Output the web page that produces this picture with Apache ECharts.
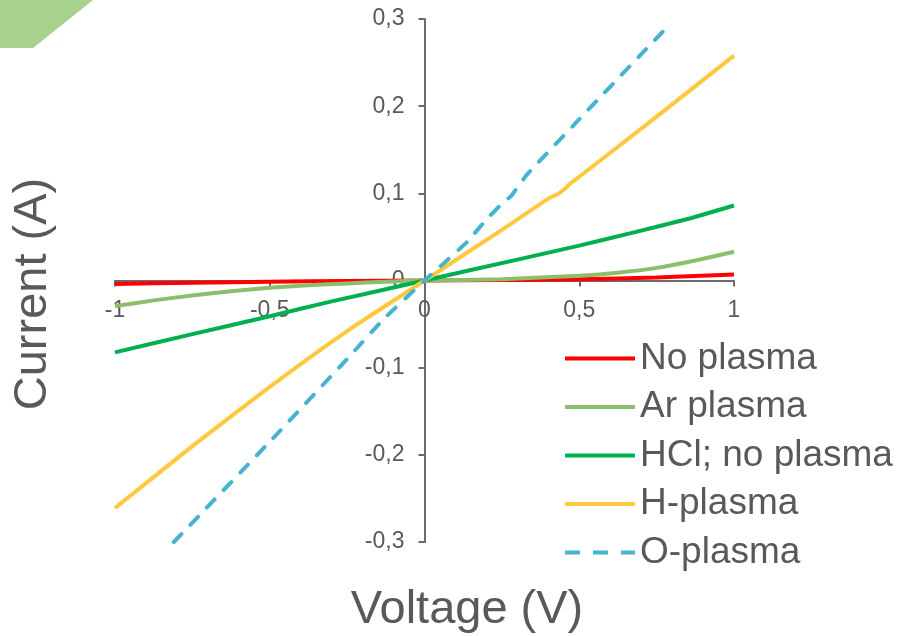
<!DOCTYPE html>
<html>
<head>
<meta charset="utf-8">
<script src="https://cdn.jsdelivr.net/npm/echarts@6/dist/echarts.min.js"></script>
<style>
html,body{margin:0;padding:0;background:#fff;}
#chart{width:899px;height:636px;}
</style>
</head>
<body>
<div id="chart"></div>
<script>
// ---- data ----
var seriesNames = ['No plasma', 'Ar plasma', 'HCl; no plasma', 'H-plasma', 'O-plasma'];

var noPlasmaV = [-1, -0.75, -0.5, -0.25, 0, 0.25, 0.5, 0.75, 1];
var noPlasmaI = [-0.004, -0.0025, -0.0015, -0.0005, 0, 0.0005, 0.0015, 0.0035, 0.007];

var arPlasmaV = [-1, -0.875, -0.75, -0.625, -0.5, -0.375, -0.25, -0.125, 0, 0.25, 0.5, 0.625, 0.75, 0.875, 1];
var arPlasmaI = [-0.0294, -0.0228, -0.0172, -0.0124, -0.0084, -0.0055, -0.0034, -0.0015, 0, 0.0015, 0.0055, 0.009, 0.0145, 0.023, 0.033];

var hclV = [-1, -0.75, -0.5, -0.3, 0, 0.3, 0.5, 0.664, 0.85, 1];
var hclI = [-0.0825, -0.0615, -0.041, -0.024, 0, 0.024, 0.040, 0.054, 0.0705, 0.086];

var hPlasmaV = [-1, -0.75, -0.5, -0.25, 0, 0.25, 0.4, 0.43, 0.45, 0.47, 0.5, 0.75, 1];
var hPlasmaI = [-0.261, -0.190, -0.122, -0.058, 0, 0.058, 0.094, 0.099, 0.104, 0.111, 0.119, 0.188, 0.258];

var oPlasmaV = [-0.81, -0.5, -0.25, -0.134, 0, 0.06, 0.137, 0.2, 0.25, 0.28, 0.33, 0.5, 0.79];
var oPlasmaI = [-0.3, -0.185, -0.09, -0.045, 0, 0.019, 0.044, 0.07, 0.088, 0.097, 0.121, 0.185, 0.293];

var xTicks = {min: -1, max: 1, interval: 0.5};
var yTicks = {min: -0.3, max: 0.3, interval: 0.1};

function pairs(xs, ys) {
  return xs.map(function (x, i) { return [x, ys[i]]; });
}
function fmt(v) {
  var r = Math.round(v * 10) / 10;
  return String(r).replace('.', ',');
}

var colors = ['#ff0000', '#8cbf6b', '#00b050', '#ffc83d', '#45b4d0'];
var datasets = [
  pairs(noPlasmaV, noPlasmaI),
  pairs(arPlasmaV, arPlasmaI),
  pairs(hclV, hclI),
  pairs(hPlasmaV, hPlasmaI),
  pairs(oPlasmaV, oPlasmaI)
];

var textColor = '#595959';
var axisColor = '#6b6b6b';
var fontFam = '"Liberation Sans", Arial, sans-serif';

// grid geometry
var G = {left: 115, right: 165, top: 19, bottom: 94, w: 899, h: 636};
var plotW = G.w - G.left - G.right;
var plotH = G.h - G.top - G.bottom;
// offsets so the axes sit on the zero lines (with their labels)
var xAxisOffset = -plotH * (0 - yTicks.min) / (yTicks.max - yTicks.min);
var yAxisOffset = -plotW * (0 - xTicks.min) / (xTicks.max - xTicks.min);

var solidIcon = 'path://M0,0h70v4h-70z';
var dashIcon = 'path://M0,0h15v4h-15z M28,0h15v4h-15z M56,0h14v4h-14z';

var chart = echarts.init(document.getElementById('chart'), null, {renderer: 'canvas'});
var option = {
  animation: false,
  backgroundColor: '#ffffff',
  grid: {left: G.left, right: G.right, top: G.top, bottom: G.bottom, containLabel: false},
  xAxis: {
    type: 'value',
    position: 'bottom',
    offset: xAxisOffset,
    min: xTicks.min, max: xTicks.max, interval: xTicks.interval,
    splitLine: {show: false},
    axisLine: {onZero: false, lineStyle: {color: axisColor, width: 2}},
    axisTick: {show: true, length: 6, lineStyle: {color: axisColor, width: 2}},
    axisLabel: {formatter: fmt, color: textColor, fontSize: 23, fontFamily: fontFam, margin: 19}
  },
  yAxis: {
    type: 'value',
    position: 'left',
    offset: yAxisOffset,
    min: yTicks.min, max: yTicks.max, interval: yTicks.interval,
    splitLine: {show: false},
    axisLine: {onZero: false, lineStyle: {color: axisColor, width: 2}},
    axisTick: {show: true, length: 6, lineStyle: {color: axisColor, width: 2}},
    axisLabel: {formatter: fmt, color: textColor, fontSize: 23, fontFamily: fontFam, margin: 20}
  },
  legend: {
    orient: 'vertical',
    left: 565, top: 340,
    padding: 0,
    itemWidth: 70, itemHeight: 4, itemGap: 11.5,
    textStyle: {color: textColor, fontSize: 37, fontFamily: fontFam, lineHeight: 36},
    data: seriesNames.map(function (n, i) {
      return {name: n, icon: i === 4 ? dashIcon : solidIcon};
    })
  },
  series: seriesNames.map(function (name, i) {
    return {
      name: name,
      type: 'line',
      data: datasets[i],
      symbol: 'none',
      smooth: 0.15,
      clip: true,
      z: 3 + i,
      lineStyle: {
        color: colors[i],
        width: 4,
        type: i === 4 ? [11, 13] : 'solid',
        cap: i === 4 ? 'round' : 'butt'
      },
      itemStyle: {color: colors[i]}
    };
  }),
  graphic: [
    {
      type: 'polygon', z: -1,
      shape: {points: [[0, 0], [93, 0], [33, 48], [0, 48]]},
      style: {fill: '#a9d18e'}
    },
    {
      type: 'text',
      x: 467, y: 610,
      style: {text: 'Voltage (V)', fill: textColor, font: '47px ' + fontFam, textAlign: 'center', textVerticalAlign: 'middle'}
    },
    {
      type: 'text',
      x: 33, y: 294, rotation: Math.PI / 2,
      style: {text: 'Current (A)', fill: textColor, font: '47px ' + fontFam, textAlign: 'center', textVerticalAlign: 'middle'}
    }
  ]
};
chart.setOption(option);
</script>
</body>
</html>
